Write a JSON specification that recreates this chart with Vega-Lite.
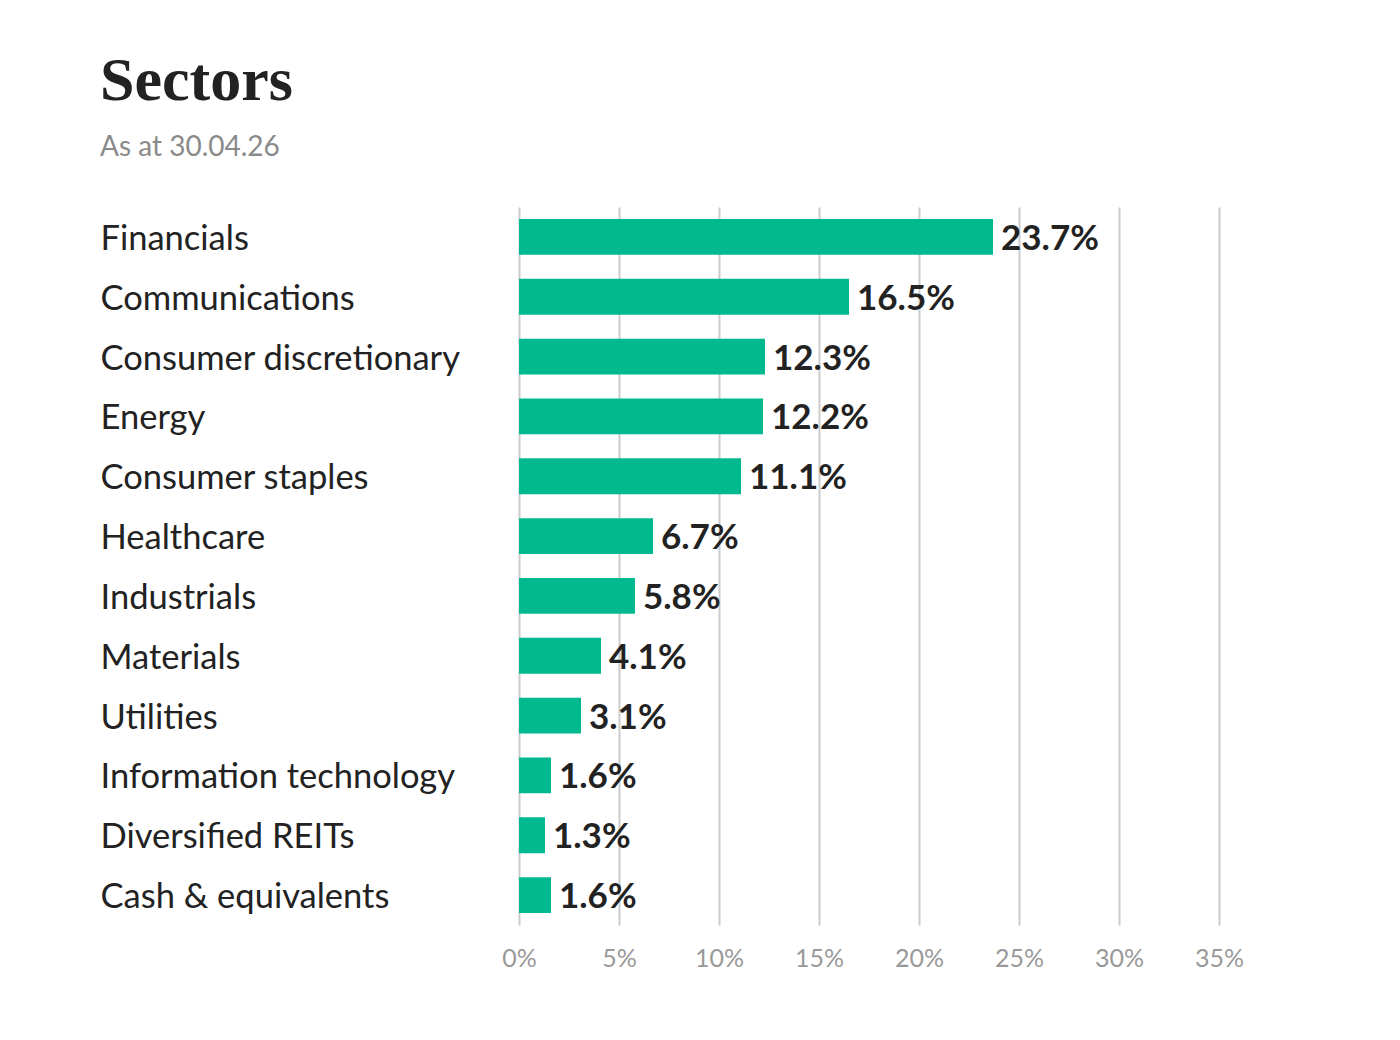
{
  "$schema": "https://vega.github.io/schema/vega-lite/v6.json",
  "autosize": {"type": "none"},
  "width": 700,
  "height": 718,
  "padding": {"left": 519, "top": 207, "right": 181, "bottom": 115},
  "background": "white",
  "title": {
    "text": "Sectors",
    "subtitle": "As at 30.04.26",
    "anchor": "start",
    "offset": 44,
    "font": "Liberation Serif",
    "fontSize": 62,
    "fontWeight": "bold",
    "color": "#222222",
    "subtitleFont": "Lato",
    "subtitleFontSize": 28,
    "subtitleColor": "#8a8a8a",
    "subtitlePadding": 21
  },
  "data": {
    "values": [
      {"sector": "Financials", "share": 0.237},
      {"sector": "Communications", "share": 0.165},
      {"sector": "Consumer discretionary", "share": 0.123},
      {"sector": "Energy", "share": 0.122},
      {"sector": "Consumer staples", "share": 0.111},
      {"sector": "Healthcare", "share": 0.067},
      {"sector": "Industrials", "share": 0.058},
      {"sector": "Materials", "share": 0.041},
      {"sector": "Utilities", "share": 0.031},
      {"sector": "Information technology", "share": 0.016},
      {"sector": "Diversified REITs", "share": 0.013},
      {"sector": "Cash & equivalents", "share": 0.016}
    ]
  },
  "encoding": {
    "y": {
      "field": "sector",
      "type": "nominal",
      "sort": null,
      "title": null,
      "scale": {"paddingInner": 0.4, "paddingOuter": 0.2},
      "axis": {
        "domain": false,
        "ticks": false,
        "tickSize": 0,
        "labelAlign": "left",
        "labelPadding": 419,
        "labelOffset": 3,
        "labelFont": "Lato",
        "labelFontSize": 34.5,
        "labelColor": "#222222",
        "labelLimit": 420,
        "grid": false
      }
    },
    "x": {
      "field": "share",
      "type": "quantitative",
      "title": null,
      "scale": {"domain": [0, 0.35], "nice": false},
      "axis": {
        "values": [0, 0.05, 0.1, 0.15, 0.2, 0.25, 0.3, 0.35],
        "format": ".0%",
        "domain": false,
        "ticks": false,
        "grid": true,
        "gridColor": "#cccccc",
        "gridWidth": 2,
        "labelFlush": false,
        "labelAlign": "center",
        "labelOverlap": false,
        "labelFont": "Lato",
        "labelFontSize": 25,
        "labelColor": "#999999",
        "labelPadding": 21,
        "labelBaseline": "top"
      }
    }
  },
  "layer": [
    {"mark": {"type": "bar", "color": "#00b98f"}},
    {
      "mark": {
        "type": "text",
        "align": "left",
        "baseline": "middle",
        "dx": 8,
        "dy": 2,
        "font": "Lato",
        "fontSize": 35,
        "fontWeight": "bold",
        "color": "#222222"
      },
      "encoding": {"text": {"field": "share", "format": ".1%"}}
    }
  ],
  "config": {"view": {"stroke": null}}
}
